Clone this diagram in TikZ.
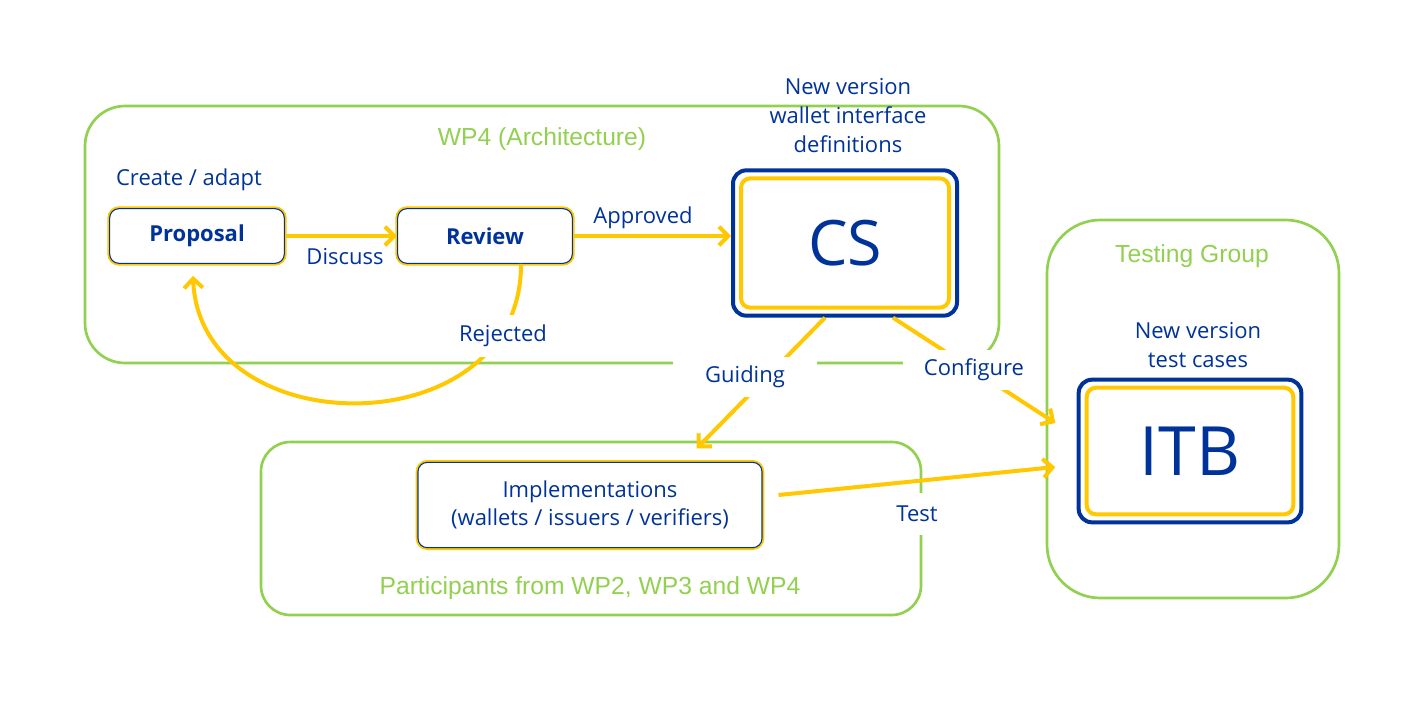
\documentclass[tikz,border=0pt]{standalone}
\usepackage{fontspec}
\setmainfont{Open Sans}
\newfontfamily\titlefont{Liberation Sans}
\usetikzlibrary{arrows.meta}
\definecolor{wpgreen}{RGB}{146,208,80}
\definecolor{hlyellow}{RGB}{255,200,0}
\definecolor{inkblue}{RGB}{0,51,153}
\tikzset{
  grp/.style={draw=wpgreen, line width=2pt},
  gtitle/.style={font=\titlefont\fontsize{18.5}{22}\selectfont, text=wpgreen},
  stepbox/.style={draw=inkblue, line width=0.8pt, rounded corners=7pt, fill=white,
    preaction={draw=hlyellow, line width=3.5pt}, text=inkblue, align=center,
    font=\fontsize{16.5}{21}\selectfont},
  bigbox/.style={draw=inkblue, line width=3pt, rounded corners=10pt, fill=white, text=inkblue,
    path picture={\draw[hlyellow, line width=3pt, rounded corners=7pt]
      ([shift={(6pt,6pt)}]path picture bounding box.south west) rectangle
      ([shift={(-6pt,-6pt)}]path picture bounding box.north east);}},
  arr/.style={draw=hlyellow, line width=3pt, -{Straight Barb[length=7pt, width=14pt]}},
  lbl/.style={font=\fontsize{16.5}{21.75}\selectfont, text=inkblue, align=center},
  cut/.style={lbl, fill=white}}

\begin{document}
\begin{tikzpicture}[x=0.75pt, y=-0.75pt]
  \useasboundingbox (0,0) rectangle (1415,715);
  % groups
  \draw[grp, rounded corners=30pt] (85,106) rectangle (999,363);
  \draw[grp, rounded corners=40pt] (1047,220) rectangle (1339,598);
  \draw[grp, rounded corners=22pt] (261,442) rectangle (921,615);
  \node[gtitle] (wp4) at (542,139) {WP4 (Architecture)};
  \node[gtitle] (testing) at (1192,256) {Testing Group};
  \node[gtitle] (participants) at (590,588) {Participants from WP2, WP3 and WP4};
  % boxes
  \node[stepbox, minimum width=131pt, minimum height=41pt, font=\fontsize{16.5}{21}\bfseries] (proposal) at (197,236) {Proposal};
  \node[stepbox, minimum width=131pt, minimum height=41pt, font=\fontsize{16.5}{21}\bfseries] (review) at (485,236) {Review};
  \node[stepbox, minimum width=258pt, minimum height=64pt] (impl) at (590,505) {Implementations\\(wallets / issuers / verifiers)};
  \node[bigbox, minimum width=168pt, minimum height=109pt, font=\fontsize{47}{50}\selectfont] (cs) at (845,243) {CS};
  \node[bigbox, minimum width=167pt, minimum height=107pt, font=\fontsize{51}{54}\selectfont] (itb) at (1190,451) {ITB};
  \node[lbl] (create) at (189,180) {Create / adapt};
  \node[lbl] (csnote) at (848,116) {New version\\wallet interface\\definitions};
  \node[lbl] (itbnote) at (1198,345) {New version\\test cases};
  % arrows
  \draw[arr] (proposal.east) -- (review.west);
  \draw[arr] (review.east) -- (review.east -| cs.west);
  \draw[arr] ([xshift=27pt]review.south) .. controls (522,447) and (200,447) .. ([xshift=-3pt, yshift=-9pt]proposal.south);
  \draw[arr] ([xshift=-15pt]cs.south) -- ([xshift=80pt, yshift=10pt]impl.north);
  \draw[arr] ([xshift=36pt]cs.south) -- ([xshift=-16pt, yshift=21pt]itb.west);
  \draw[arr] ([xshift=12pt, yshift=7.5pt]impl.east) -- ([xshift=-16pt, yshift=-12pt]itb.west);
  % labels
  \node[lbl] (discuss) at (345,257) {Discuss};
  \node[lbl] (approved) at (643,218) {Approved};
  \node[cut, minimum width=78pt, minimum height=31pt] (rejected) at (503,336) {Rejected};
  \node[cut, minimum width=108pt, minimum height=30pt] (guiding) at (745,377) {Guiding};
  \node[cut, minimum width=106pt, minimum height=30pt] (configure) at (974,370) {Configure};
  \node[cut, minimum width=40pt, minimum height=31pt] (test) at (917,514) {Test};
\end{tikzpicture}
\end{document}
